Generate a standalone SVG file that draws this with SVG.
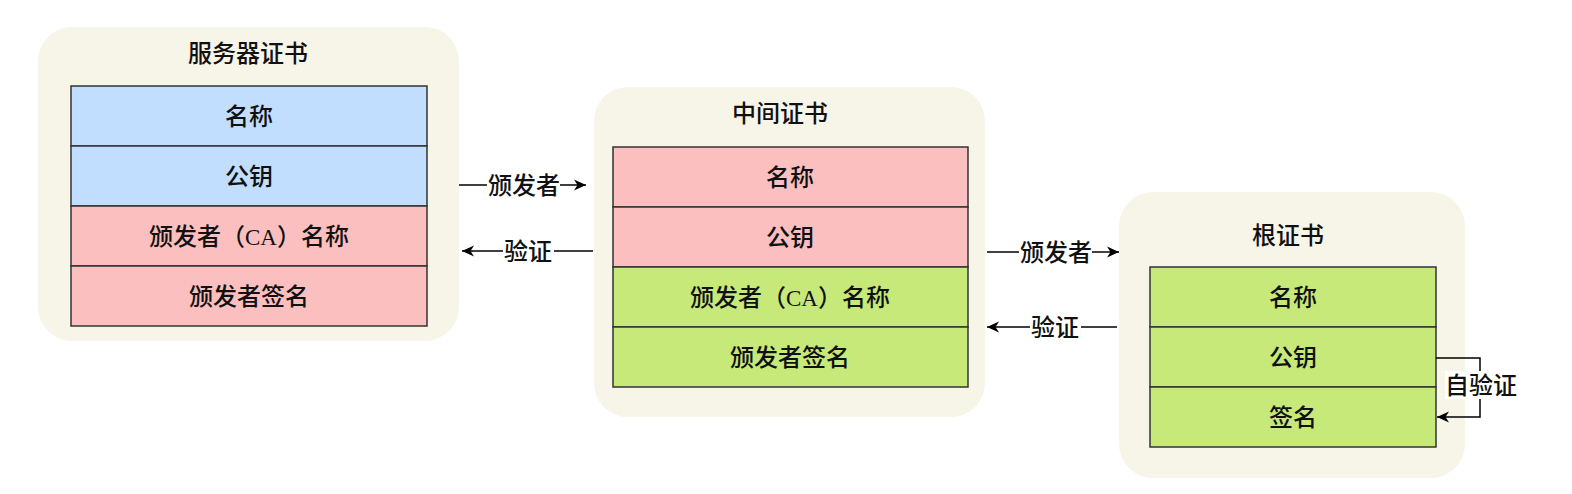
<svg xmlns="http://www.w3.org/2000/svg" width="1572" height="494" viewBox="0 0 1572 494">
<defs>
<style>
.box{fill:#f7f4e8;stroke:none}
.cell{stroke:#333;stroke-width:1.5}
.blue{fill:#c2defe}
.pink{fill:#fbbfbf}
.green{fill:#c6e97a}
text{font-family:"Noto Sans CJK SC","Noto Sans",sans-serif;font-size:24px;font-weight:500;fill:#111;text-anchor:middle}
.mono{font-family:"Liberation Serif",serif;font-size:23px;font-weight:400}
.conn{stroke:#000;stroke-width:1.5;fill:none}
.lbl{fill:#fff}
</style>
<marker id="arr" markerWidth="14" markerHeight="12" refX="12" refY="6" orient="auto" markerUnits="userSpaceOnUse">
<path d="M0,0.5 L12,6 L0,11.5 L3.5,6 Z" fill="#000"/>
</marker>
</defs>

<g id="server-cert">
<rect class="box" x="38" y="27" width="421" height="314" rx="34"/>
<text x="248" y="62">服务器证书</text>
<rect class="cell blue" x="71" y="86" width="356" height="60"/>
<rect class="cell blue" x="71" y="146" width="356" height="60"/>
<rect class="cell pink" x="71" y="206" width="356" height="60"/>
<rect class="cell pink" x="71" y="266" width="356" height="60"/>
<text x="249" y="125">名称</text>
<text x="249" y="185">公钥</text>
<text x="249" y="245">颁发者（<tspan class="mono">CA</tspan>）名称</text>
<text x="249" y="305">颁发者签名</text>
</g>

<g id="intermediate-cert">
<rect class="box" x="594" y="87" width="391" height="330" rx="34"/>
<text x="780" y="122">中间证书</text>
<rect class="cell pink" x="613" y="147" width="355" height="60"/>
<rect class="cell pink" x="613" y="207" width="355" height="60"/>
<rect class="cell green" x="613" y="267" width="355" height="60"/>
<rect class="cell green" x="613" y="327" width="355" height="60"/>
<text x="790" y="186">名称</text>
<text x="790" y="246">公钥</text>
<text x="790" y="306">颁发者（<tspan class="mono">CA</tspan>）名称</text>
<text x="790" y="366">颁发者签名</text>
</g>

<g id="root-cert">
<rect class="box" x="1119" y="192" width="346" height="286" rx="34"/>
<text x="1288" y="244">根证书</text>
<rect class="cell green" x="1150" y="267" width="286" height="60"/>
<rect class="cell green" x="1150" y="327" width="286" height="60"/>
<rect class="cell green" x="1150" y="387" width="286" height="60"/>
<text x="1293" y="306">名称</text>
<text x="1293" y="366">公钥</text>
<text x="1293" y="426">签名</text>
</g>

<g id="connectors">
<line class="conn" x1="459" y1="185" x2="586" y2="185" marker-end="url(#arr)"/>
<rect class="lbl" x="487" y="172" width="73" height="26"/>
<text x="524" y="194">颁发者</text>

<line class="conn" x1="593" y1="251" x2="462" y2="251" marker-end="url(#arr)"/>
<rect class="lbl" x="503" y="238" width="51" height="26"/>
<text x="528" y="260">验证</text>

<line class="conn" x1="987" y1="252" x2="1119" y2="252" marker-end="url(#arr)"/>
<rect class="lbl" x="1019" y="239" width="73" height="26"/>
<text x="1056" y="261">颁发者</text>

<line class="conn" x1="1117" y1="327" x2="987" y2="327" marker-end="url(#arr)"/>
<rect class="lbl" x="1030" y="314" width="51" height="26"/>
<text x="1055" y="336">验证</text>

<polyline class="conn" points="1436,358 1480,358 1480,417 1437,417" marker-end="url(#arr)"/>
<rect class="lbl" x="1445" y="371" width="72" height="28"/>
<text x="1481" y="394">自验证</text>
</g>
</svg>
